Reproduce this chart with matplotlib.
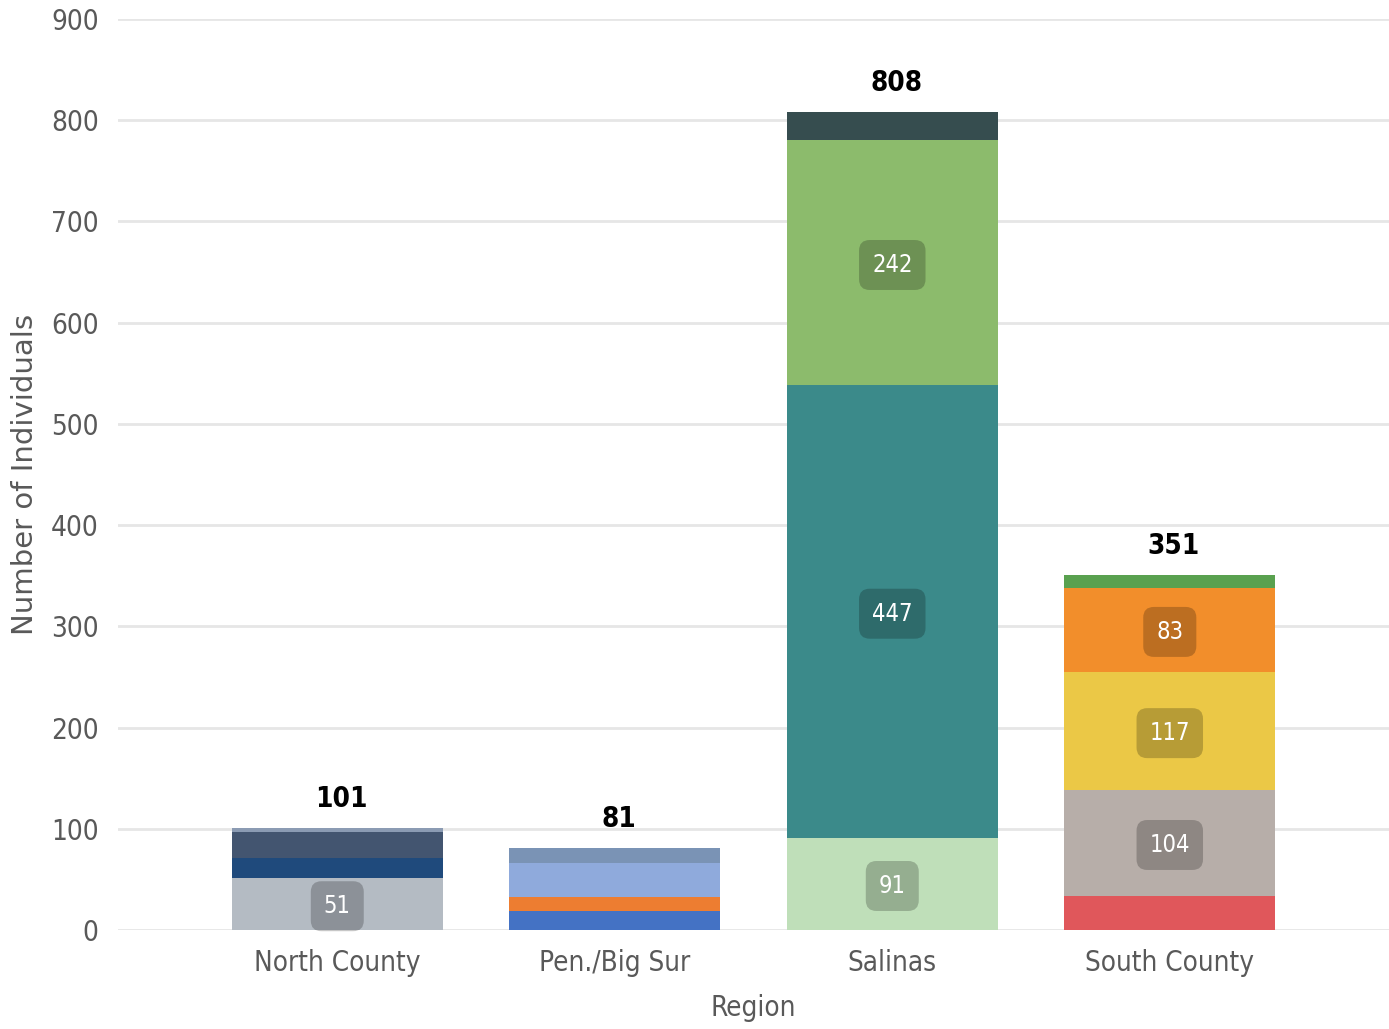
import numpy as np
import matplotlib.pyplot as plt

regions = ["North County", "Pen./Big Sur", "Salinas", "South County"]

# segments per region, bottom to top
segments = {
    "North County": [51, 20, 26, 4],
    "Pen./Big Sur": [19, 14, 33, 15],
    "Salinas": [91, 447, 242, 28],
    "South County": [34, 104, 117, 83, 13],
}
seg_colors = {
    "North County": ["#b4bbc3", "#1f4a7c", "#435570", "#8b9bb3"],
    "Pen./Big Sur": ["#4472c4", "#ed7d31", "#8faadc", "#7a93b5"],
    "Salinas": ["#bfdfb9", "#3b8a8a", "#8cbb6c", "#364d4f"],
    "South County": ["#e0575b", "#b7aea9", "#ebc846", "#f28e2b", "#59a14f"],
}
# which segment values get a boxed label
labelled = {
    "North County": [0],
    "Pen./Big Sur": [],
    "Salinas": [0, 1, 2],
    "South County": [1, 2, 3],
}
totals = [101, 81, 808, 351]

cond = dict(family="DejaVu Sans", stretch="condensed")

fig = plt.figure(figsize=(13.89, 10.29), dpi=100)
ax = fig.add_axes([0.085, 0.0962, 0.915, 0.8853])

width = 0.76
for i, r in enumerate(regions):
    bottom = 0
    for j, (v, c) in enumerate(zip(segments[r], seg_colors[r])):
        ax.bar(i, v, width=width, bottom=bottom, color=c, zorder=3)
        if j in labelled[r]:
            ax.text(i, bottom + v / 2 - 2, str(v), ha="center", va="center",
                    color="white", fontsize=17, zorder=5, **cond,
                    bbox=dict(boxstyle="round,pad=0.55,rounding_size=0.45",
                              facecolor=(0, 0, 0, 0.22), edgecolor="none"))
        bottom += v
    ax.text(i + 0.015, totals[i] + 15, str(totals[i]), ha="center", va="bottom",
            fontsize=20, fontweight="bold", color="black", zorder=5, **cond)

ax.set_xlim(-0.79, 3.79)
ax.set_ylim(0, 900)
ax.set_yticks(np.arange(0, 901, 100))
ax.set_xticks(range(len(regions)))
ax.set_xticklabels(regions, fontsize=20, color="#595959", **cond)
for t in ax.get_yticklabels():
    t.set_family("DejaVu Sans")
    t.set_stretch("condensed")
    t.set_fontsize(20)
    t.set_color("#595959")
ax.tick_params(axis="both", length=0)
ax.tick_params(axis="y", pad=14)
ax.tick_params(axis="x", pad=14)
ax.grid(axis="y", color="#e6e6e6", linewidth=2, zorder=0)
for s in ax.spines.values():
    s.set_visible(False)

ax.set_xlabel("Region", fontsize=20, color="#595959", labelpad=12, **cond)
ax.set_ylabel("Number of Individuals", fontsize=21, color="#595959",
              family="DejaVu Sans", va="center")
ax.yaxis.set_label_coords(-0.073, 0.5)

fig.savefig("out.png", dpi=100)
